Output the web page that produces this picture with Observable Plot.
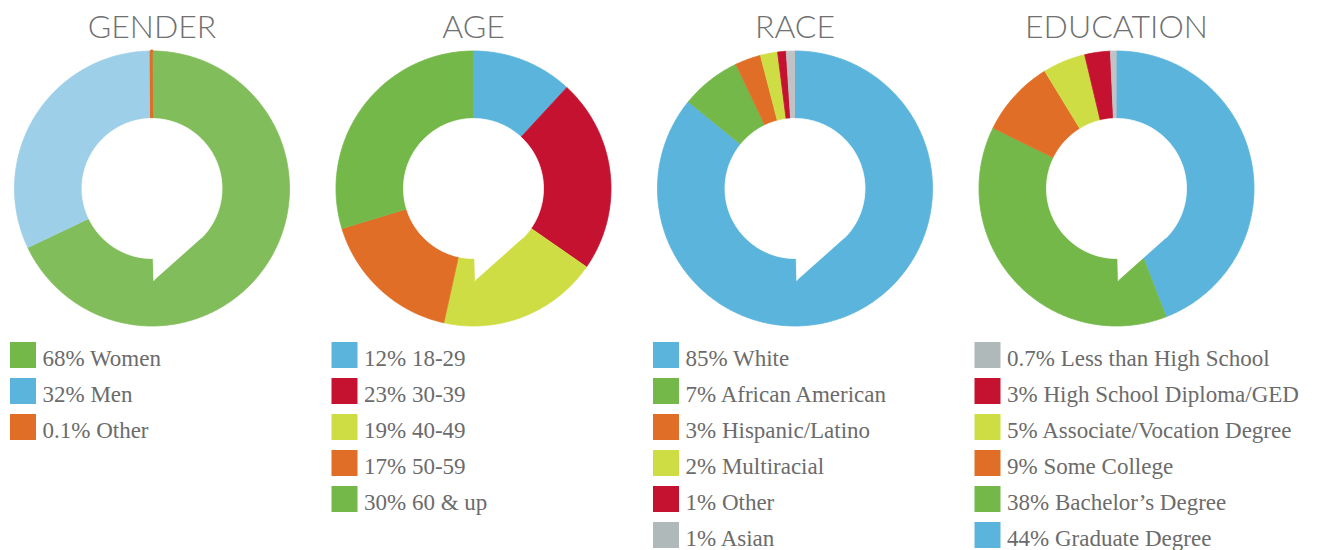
<!DOCTYPE html>
<html><head><meta charset="utf-8">
<script src="https://cdn.jsdelivr.net/npm/d3@7"></script>
<script src="https://cdn.jsdelivr.net/npm/@observablehq/plot@0.6"></script>
<style>body{margin:0;background:#fff}</style>
</head><body><div id="chart"></div>
<script>
const titles = ["GENDER", "AGE", "RACE", "EDUCATION"];

const genderLabels = ["68% Women", "32% Men", "0.1% Other"];
const genderValues = [68, 32, 0.1];
const genderPieColors = ["#82bd5b", "#9ecfe8", "#e06e26"];
const genderLegendColors = ["#74b84a", "#5ab4dc", "#e06e26"];

const ageLabels = ["12% 18-29", "23% 30-39", "19% 40-49", "17% 50-59", "30% 60 & up"];
const ageValues = [12, 23, 19, 17, 30];
const ageColors = ["#5ab4dc", "#c41230", "#cfdd45", "#e06e26", "#74b84a"];

const raceLabels = ["85% White", "7% African American", "3% Hispanic/Latino", "2% Multiracial", "1% Other", "1% Asian"];
const raceValues = [85, 7, 3, 2, 1, 1];
const racePieColors = ["#5ab4dc", "#74b84a", "#e06e26", "#cfdd45", "#c41230", "#c0c2c4"];
const raceLegendColors = ["#5ab4dc", "#74b84a", "#e06e26", "#cfdd45", "#c41230", "#afb9b9"];

const eduLabels = ["0.7% Less than High School", "3% High School Diploma/GED", "5% Associate/Vocation Degree", "9% Some College", "38% Bachelor\u2019s Degree", "44% Graduate Degree"];
const eduValues = [0.7, 3, 5, 9, 38, 44];
const eduPieColors = ["#c0c2c4", "#c41230", "#cfdd45", "#e06e26", "#74b84a", "#5ab4dc"];
const eduLegendColors = ["#afb9b9", "#c41230", "#cfdd45", "#e06e26", "#74b84a", "#5ab4dc"];

// layout
const W = 1319, H = 550;
const CX0 = 151.5, DX = 321.5, CY = 188, R = 137.5, RH = 70;
const LEG_TOP = 342, LEG_STEP = 36, SW = 26;

const charts = [
  {labels: genderLabels, values: genderValues, pie: genderPieColors, legend: genderLegendColors, reverse: false},
  {labels: ageLabels, values: ageValues, pie: ageColors, legend: ageColors, reverse: false},
  {labels: raceLabels, values: raceValues, pie: racePieColors, legend: raceLegendColors, reverse: false},
  {labels: eduLabels, values: eduValues, pie: eduPieColors, legend: eduLegendColors, reverse: true}
];

const slicePts = [], thinPts = [], holePts = [], legendRows = [], titleRows = [];
charts.forEach((c, i) => {
  const cx = CX0 + i * DX;
  titleRows.push({x: cx, y: 27, text: titles[i]});
  let vals = c.values.map((v, j) => ({v, color: c.pie[j]}));
  if (c.reverse) vals = vals.slice().reverse();
  const arcs = d3.pie().sort(null).value(d => d.v)(vals);
  arcs.forEach((a, j) => {
    const id = i + "-" + j;
    const thin = (a.endAngle - a.startAngle) < 0.02;
    const target = thin ? thinPts : slicePts;
    target.push({id, x: cx, y: CY, color: a.data.color});
    const n = Math.max(2, Math.ceil((a.endAngle - a.startAngle) / 0.01));
    for (let k = 0; k <= n; k++) {
      const t = a.startAngle + (a.endAngle - a.startAngle) * k / n;
      target.push({id, x: cx + R * Math.sin(t), y: CY - R * Math.cos(t), color: a.data.color});
    }
  });
  // speech-bubble hole
  const a0 = 135 * Math.PI / 180, a1 = -Math.PI - Math.asin(1.2 / RH);
  const n = 200;
  for (let k = 0; k <= n; k++) {
    const t = a0 + (a1 - a0) * k / n;
    holePts.push({id: "h" + i, x: cx + RH * Math.sin(t), y: CY - RH * Math.cos(t)});
  }
  holePts.push({id: "h" + i, x: cx + 1.8, y: CY + 92});
  c.labels.forEach((lab, j) => {
    legendRows.push({x0: cx - 141.5, y0: LEG_TOP + j * LEG_STEP, color: c.legend[j], label: lab});
  });
});

const plot = Plot.plot({
  width: W, height: H,
  margin: 0,
  x: {domain: [0, W], range: [0, W], axis: null},
  y: {domain: [0, H], range: [0, H], axis: null},
  color: {type: "identity"},
  style: {background: "#fff"},
  marks: [
    Plot.line(slicePts, {x: "x", y: "y", z: "id", fill: "color", stroke: "color", strokeWidth: 0.8, curve: "linear"}),
    Plot.line(thinPts, {x: "x", y: "y", z: "id", fill: "color", stroke: "color", strokeWidth: 3, strokeLinejoin: "miter", curve: "linear"}),
    Plot.line(holePts, {x: "x", y: "y", z: "id", fill: "#fff", stroke: "#fff", strokeWidth: 0.8, curve: "linear"}),
    Plot.text(titleRows, {x: "x", y: "y", text: "text", fontSize: 32, fontFamily: "Lato", fontWeight: 300, fill: "#707070"}),
    Plot.rect(legendRows, {x1: "x0", x2: d => d.x0 + SW, y1: "y0", y2: d => d.y0 + SW, fill: "color"}),
    Plot.text(legendRows, {x: d => d.x0 + 32, y: d => d.y0 + 16.6, text: "label", textAnchor: "start", fontSize: 23, fontFamily: "Liberation Serif", fill: "#6b6b6b"})
  ]
});
document.getElementById("chart").appendChild(plot);
</script>
</body></html>
